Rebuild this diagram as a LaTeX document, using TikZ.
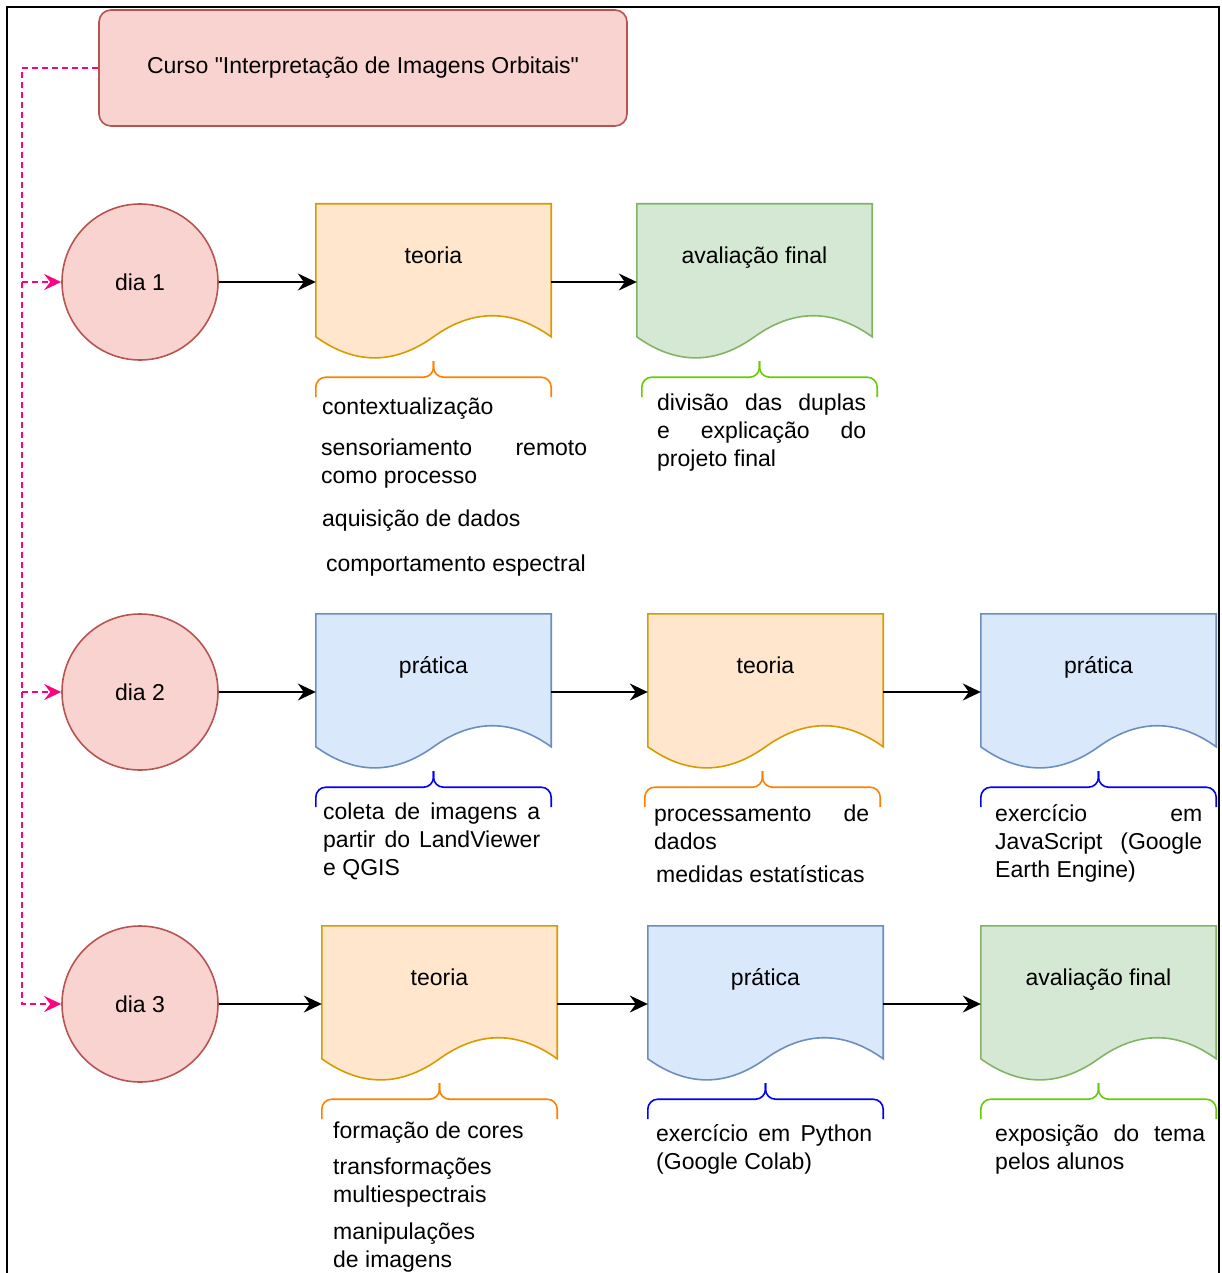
\documentclass[tikz,border=0pt]{standalone}
\usepackage{fontspec}
\setmainfont{Liberation Sans}[Ligatures=TeXOff]
\usepackage{xcolor}
\usepackage{tikz}
\usetikzlibrary{arrows.meta, backgrounds}

\definecolor{dayfill}{HTML}{F8D3CF}
\definecolor{dayline}{HTML}{B85450}
\definecolor{teofill}{HTML}{FFE6CC}
\definecolor{teoline}{HTML}{D79B00}
\definecolor{avafill}{HTML}{D5E8D4}
\definecolor{avaline}{HTML}{82B366}
\definecolor{prafill}{HTML}{DAE8FC}
\definecolor{praline}{HTML}{6C8EBF}
\definecolor{orangeb}{HTML}{FF8000}
\definecolor{greenb}{HTML}{66CC00}
\definecolor{blueb}{HTML}{0000FF}
\definecolor{linkpink}{HTML}{FF0080}

\newcommand{\labelfont}{\fontsize{23}{28}\selectfont}
\newcommand{\spreadline}[2]{\makebox[#1][s]{#2}}

\tikzset{
  hdr/.style={rectangle, rounded corners=12pt, draw=dayline, fill=dayfill, line width=1.6pt,
    minimum width=528pt, minimum height=116pt, font=\labelfont},
  day/.style={circle, draw=dayline, fill=dayfill, line width=1.6pt, minimum size=156pt,
    inner sep=0pt, font=\labelfont},
  doc/.style={rectangle, minimum width=235pt, inner sep=0pt, text height=59pt,
    text depth=97pt, font=\labelfont},
  teo/.style={draw=teoline, fill=teofill, line width=1.6pt},
  ava/.style={draw=avaline, fill=avafill, line width=1.6pt},
  pra/.style={draw=praline, fill=prafill, line width=1.6pt},
  note/.style={anchor=north west, inner sep=0pt, align=left, font=\labelfont},
  bracket/.style={line width=1.6pt, rounded corners=10pt},
  flow/.style={line width=1.6pt, -{Stealth[length=18pt, width=17pt, inset=6pt]}},
  link/.style={linkpink, line width=1.4pt, dash pattern=on 6pt off 4pt,
    -{Stealth[length=17pt, width=16pt, inset=6pt]}}
}

\begin{document}
\begin{tikzpicture}[x=1pt, y=-1pt]
  \useasboundingbox (0,0) rectangle (1221,1273);
  \draw[line width=2.5pt] (7,1273) -- (7,7) -- (1219,7) -- (1219,1273);

  \node[hdr] (hdr) at (363,68) {Curso "Interpretação de Imagens Orbitais"};

  \node[day] (dia1) at (140,282) {dia 1};
  \node[day] (dia2) at (140,692) {dia 2};
  \node[day] (dia3) at (140,1004) {dia 3};

  \node[doc] (teo1) at (433.5,282) {teoria};
  \node[doc] (ava1) at (754.5,282) {avaliação final};
  \node[doc] (pra2) at (433.5,692) {prática};
  \node[doc] (teo2) at (765.5,692) {teoria};
  \node[doc] (prb2) at (1098.5,692) {prática};
  \node[doc] (teo3) at (439.5,1004) {teoria};
  \node[doc] (pra3) at (765.5,1004) {prática};
  \node[doc] (ava3) at (1098.5,1004) {avaliação final};

  \begin{scope}[on background layer]
    \foreach \n/\s in {teo1/teo, ava1/ava, pra2/pra, teo2/teo, prb2/pra, teo3/teo, pra3/pra, ava3/ava}
      \filldraw[\s] (\n.north west) -- (\n.north east) -- ([yshift=23.4pt]\n.south east)
        .. controls ([shift={(-39.2pt,51.5pt)}]\n.south east) and ([shift={(39.2pt,51.5pt)}]\n.south) .. ([yshift=23.4pt]\n.south)
        .. controls ([shift={(-39.2pt,-4.7pt)}]\n.south) and ([shift={(39.2pt,-4.7pt)}]\n.south west) .. ([yshift=23.4pt]\n.south west)
        -- cycle;
  \end{scope}

  \coordinate (bus) at (22,68);
  \draw[link] (hdr.west) -- (bus) |- (dia3);
  \draw[link] (bus |- dia1) -- (dia1);
  \draw[link] (bus |- dia2) -- (dia2);

  \draw[flow] (dia1) -- (teo1);
  \draw[flow] (teo1) -- (ava1);
  \draw[flow] (dia2) -- (pra2);
  \draw[flow] (pra2) -- (teo2);
  \draw[flow] (teo2) -- (prb2);
  \draw[flow] (dia3) -- (teo3);
  \draw[flow] (teo3) -- (pra3);
  \draw[flow] (pra3) -- (ava3);

  \foreach \n/\c/\dx in {teo1/orangeb/0, ava1/greenb/5, pra2/blueb/0, teo2/orangeb/-3, prb2/blueb/0, teo3/orangeb/0, pra3/blueb/0, ava3/greenb/0} {
    \draw[bracket, \c] ([shift={(\dx pt,-37pt)}]\n.south west) |- ([shift={(\dx pt,-17pt)}]\n.south) -- ([shift={(\dx pt,-1pt)}]\n.south);
    \draw[bracket, \c] ([shift={(\dx pt,-37pt)}]\n.south east) |- ([shift={(\dx pt,-17pt)}]\n.south) -- ([shift={(\dx pt,-1pt)}]\n.south);
  }

  \node[note] (c1a) at (322,394.5) {\strut contextualização};
  \node[note] (c1b) at (321,435.5) {\strut\spreadline{266pt}{sensoriamento remoto}\\como processo};
  \node[note] (c1c) at (322,506.5) {\strut aquisição de dados};
  \node[note] (c1d) at (326,551.5) {\strut comportamento espectral};
  \node[note] (c2) at (657,390.5) {\strut\spreadline{209pt}{divisão das duplas}\\\spreadline{209pt}{e explicação do}\\projeto final};
  \node[note] (c3) at (323,799.5) {\strut\spreadline{217pt}{coleta de imagens a}\\\spreadline{217pt}{partir do LandViewer}\\e QGIS};
  \node[note] (c4a) at (654,801.5) {\strut\spreadline{215pt}{processamento de}\\dados};
  \node[note] (c4b) at (656,862.5) {\strut medidas estatísticas};
  \node[note] (c5) at (995,801.5) {\strut\spreadline{207pt}{exercício em}\\\spreadline{207pt}{JavaScript (Google}\\Earth Engine)};
  \node[note] (c6a) at (333,1118.5) {\strut formação de cores};
  \node[note] (c6b) at (333,1154.5) {\strut transformações\\multiespectrais};
  \node[note] (c6c) at (333,1219.5) {\strut manipulações\\de imagens};
  \node[note] (c7) at (656,1121.5) {\strut\spreadline{216pt}{exercício em Python}\\(Google Colab)};
  \node[note] (c8) at (995,1121.5) {\strut\spreadline{210pt}{exposição do tema}\\pelos alunos};
\end{tikzpicture}
\end{document}
